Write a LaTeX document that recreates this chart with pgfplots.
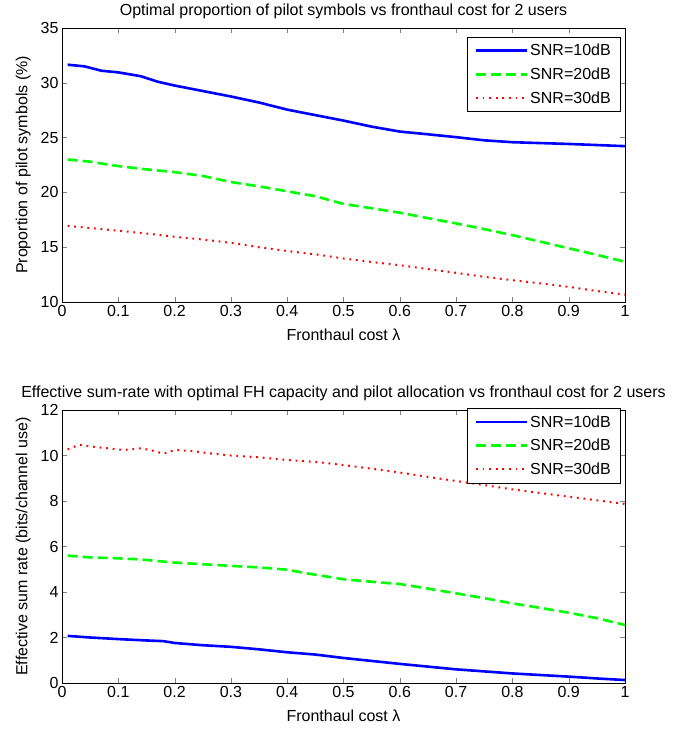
\documentclass[border=0pt]{standalone}
\usepackage{fontspec}
\setmainfont{Liberation Sans}
\usepackage{pgfplots}
\pgfplotsset{compat=1.18}

\pgfplotsset{
  mlab/.style={
    scale only axis,
    width=563pt,
    xmin=0, xmax=1,
    xtick={0,0.1,...,1},
    tick align=inside,
    major tick length=5pt,
    font=\fontsize{16}{19}\selectfont,
    /pgf/number format/assume math mode=true,
    xticklabel style={/pgf/number format/fixed},
    xlabel={Fronthaul cost λ},
    xlabel shift=5pt,
    ylabel shift=3pt,
    legend cell align=left,
    legend image code/.code={\draw[##1] (0pt,0pt) -- (51pt,0pt);},
    legend style={draw=black, fill=white, font=\fontsize{16}{19}\selectfont,
      row sep=6.5pt, inner xsep=7pt, inner ysep=5pt},
  },
  s10/.style={blue, line width=2.6pt},
  s20/.style={green, line width=2.6pt, dash pattern=on 10pt off 5pt},
  s30/.style={red, line width=2pt, dash pattern=on 1.8pt off 4.8pt},
}

\begin{document}
\begin{tikzpicture}
\useasboundingbox (0,0) rectangle (689pt,731pt);

% top: proportion of pilot symbols
\begin{axis}[mlab,
  at={(62pt,429pt)}, anchor=south west,
  height=274pt,
  ymin=10, ymax=35, ytick={10,15,...,35},
  ylabel={Proportion of pilot symbols (\%)},
  title={Optimal proportion of pilot symbols vs fronthaul cost for 2 users},
  legend style={at={(0.991,0.967)}, anchor=north east},
]
\addplot[s10] coordinates {
(0.01,31.65) (0.04,31.5) (0.07,31.1) (0.10,30.95) (0.14,30.6) (0.17,30.1)
(0.20,29.75) (0.25,29.25) (0.30,28.75) (0.35,28.2) (0.40,27.55) (0.45,27.05)
(0.50,26.55) (0.55,26.0) (0.60,25.55) (0.65,25.3) (0.70,25.04) (0.75,24.75)
(0.80,24.58) (0.85,24.5) (0.90,24.42) (0.95,24.32) (1.00,24.22)};
\addlegendentry{SNR=10dB}
\addplot[s20] coordinates {
(0.01,23.0) (0.05,22.8) (0.10,22.4) (0.15,22.1) (0.20,21.85) (0.25,21.5)
(0.30,20.95) (0.35,20.55) (0.40,20.1) (0.45,19.65) (0.50,18.95) (0.55,18.55)
(0.60,18.15) (0.65,17.65) (0.70,17.17) (0.75,16.65) (0.80,16.1) (0.85,15.5)
(0.90,14.9) (0.95,14.3) (1.00,13.67)};
\addlegendentry{SNR=20dB}
\addplot[s30] coordinates {
(0.01,16.95) (0.05,16.75) (0.10,16.5) (0.15,16.25) (0.20,15.95) (0.25,15.7)
(0.30,15.4) (0.35,15.0) (0.40,14.65) (0.45,14.35) (0.50,13.97) (0.55,13.65)
(0.60,13.36) (0.65,13.0) (0.70,12.66) (0.75,12.3) (0.80,11.99) (0.85,11.7)
(0.90,11.38) (0.95,11.0) (1.00,10.68)};
\addlegendentry{SNR=30dB}
\end{axis}

% bottom: effective sum rate
\begin{axis}[mlab,
  at={(62pt,48pt)}, anchor=south west,
  height=273pt,
  ymin=0, ymax=12, ytick={0,2,...,12},
  ylabel={Effective sum rate (bits/channel use)},
  title={Effective sum-rate with optimal FH capacity and pilot allocation vs fronthaul cost for 2 users},
  legend style={at={(0.991,1.006)}, anchor=north east},
]
\addplot[s10] coordinates {
(0.01,2.07) (0.05,2.0) (0.10,1.93) (0.15,1.87) (0.18,1.84) (0.20,1.76)
(0.25,1.66) (0.30,1.59) (0.35,1.48) (0.40,1.35) (0.45,1.25) (0.50,1.1)
(0.55,0.97) (0.60,0.84) (0.65,0.72) (0.70,0.6) (0.75,0.51) (0.80,0.42)
(0.85,0.35) (0.90,0.28) (0.95,0.2) (1.00,0.13)};
\addlegendentry{SNR=10dB}
\addplot[s20] coordinates {
(0.01,5.6) (0.05,5.52) (0.10,5.48) (0.14,5.43) (0.20,5.29) (0.25,5.22)
(0.30,5.15) (0.35,5.08) (0.40,4.98) (0.43,4.84) (0.47,4.68) (0.50,4.56)
(0.55,4.45) (0.60,4.35) (0.65,4.15) (0.70,3.94) (0.75,3.73) (0.80,3.5)
(0.85,3.3) (0.90,3.09) (0.95,2.85) (1.00,2.55)};
\addlegendentry{SNR=20dB}
\addplot[s30] coordinates {
(0.01,10.27) (0.03,10.47) (0.05,10.4) (0.08,10.32) (0.11,10.24) (0.14,10.32)
(0.16,10.22) (0.18,10.08) (0.20,10.24) (0.23,10.2) (0.26,10.1) (0.30,10.0)
(0.35,9.92) (0.40,9.8) (0.45,9.72) (0.50,9.58) (0.55,9.42) (0.60,9.25)
(0.65,9.06) (0.70,8.88) (0.75,8.7) (0.80,8.51) (0.85,8.35) (0.90,8.19)
(0.95,8.03) (1.00,7.87)};
\addlegendentry{SNR=30dB}
\end{axis}
\end{tikzpicture}
\end{document}
